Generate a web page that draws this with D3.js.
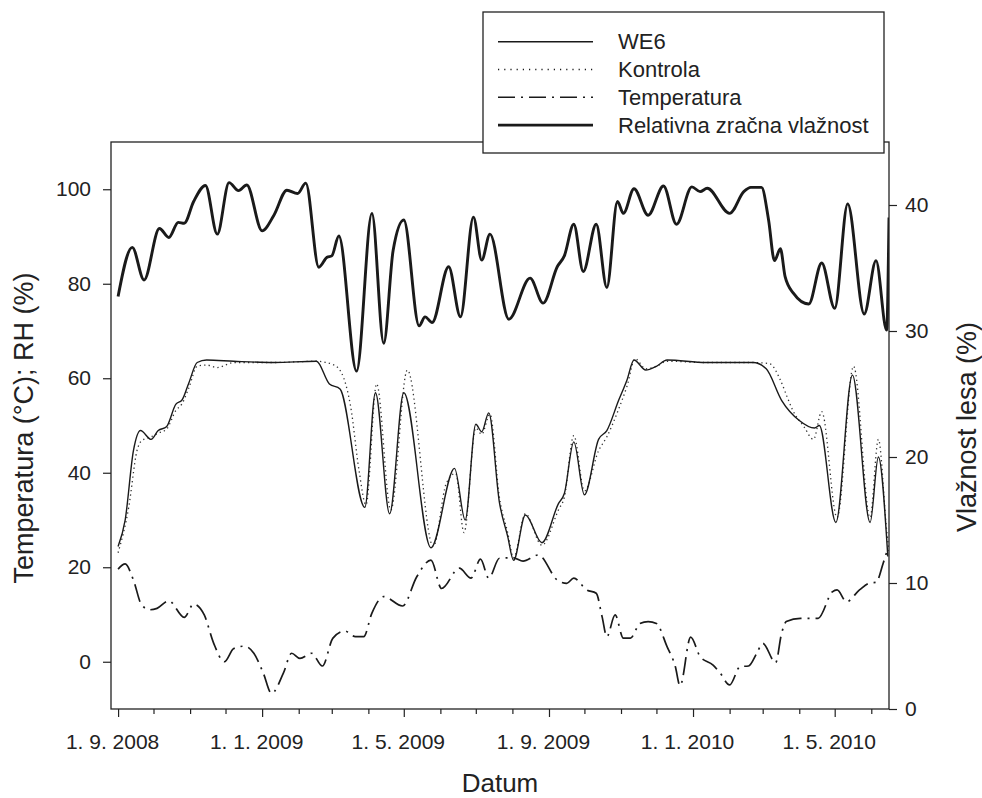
<!DOCTYPE html>
<html>
<head>
<meta charset="utf-8">
<script src="https://cdn.jsdelivr.net/npm/d3@7/dist/d3.min.js"></script>
<style>
  html, body { margin: 0; padding: 0; background: #fff; }
  svg { display: block; }
  text { font-family: "Liberation Sans", Arial, sans-serif; fill: #222; }
</style>
</head>
<body>
<svg id="chart" width="982" height="798"></svg>
<script>
// ---- data ----
const xDomain = ["2008-08-26", "2010-06-16"];
const leftTicks = [0, 20, 40, 60, 80, 100];
const rightTicks = [0, 10, 20, 30, 40];
const labelMonths = [0, 4, 8]; // January, May, September get labels

// Relative air humidity (%), left axis
const rhSeries = [
  ["2008-09-01",77.3],["2008-09-13",87.7],["2008-09-23",80.8],["2008-10-06",91.7],
  ["2008-10-14",89.8],["2008-10-22",93.0],["2008-10-27",92.8],["2008-11-04",97.4],
  ["2008-11-14",100.8],["2008-11-24",90.5],["2008-12-04",101.4],["2008-12-12",99.7],
  ["2008-12-19",100.9],["2009-01-01",91.2],["2009-01-11",94.5],["2009-01-22",99.8],
  ["2009-01-31",99.1],["2009-02-07",101.3],["2009-02-18",83.5],["2009-02-25",85.6],
  ["2009-03-01",85.9],["2009-03-07",90.1],["2009-03-22",61.5],["2009-04-04",94.9],
  ["2009-04-14",67.4],["2009-04-22",87.1],["2009-05-01",93.5],["2009-05-14",71.1],
  ["2009-05-19",73.0],["2009-05-25",71.8],["2009-06-08",83.6],["2009-06-18",73.0],
  ["2009-06-29",94.1],["2009-07-06",85.0],["2009-07-13",90.5],["2009-07-29",72.5],
  ["2009-08-16",81.2],["2009-08-27",75.9],["2009-09-08",83.6],["2009-09-14",85.9],
  ["2009-09-22",92.6],["2009-09-30",82.6],["2009-10-11",92.6],["2009-10-20",79.2],
  ["2009-10-29",97.4],["2009-11-03",94.9],["2009-11-12",100.1],["2009-11-24",94.5],
  ["2009-12-07",100.7],["2009-12-18",92.6],["2009-12-31",100.5],["2010-01-07",99.5],
  ["2010-01-13",100.2],["2010-02-01",94.9],["2010-02-13",99.5],["2010-02-19",100.4],
  ["2010-02-28",100.4],["2010-03-06",93.5],["2010-03-11",84.9],["2010-03-16",87.4],
  ["2010-03-20",81.5],["2010-03-27",78.0],["2010-04-09",75.7],["2010-04-20",84.4],
  ["2010-05-01",74.8],["2010-05-12",96.9],["2010-05-26",73.6],["2010-06-05",84.9],
  ["2010-06-14",70.2],["2010-06-16",94.0]
];

// Air temperature (°C), left axis
const tempSeries = [
  ["2008-09-01",19.6],["2008-09-07",20.7],["2008-09-14",17.3],["2008-09-21",12.0],
  ["2008-09-28",11.0],["2008-10-04",11.3],["2008-10-14",12.9],["2008-10-27",9.4],
  ["2008-11-04",12.2],["2008-11-13",9.9],["2008-11-21",3.9],["2008-11-30",0.0],
  ["2008-12-08",2.8],["2008-12-17",3.3],["2008-12-25",1.8],["2009-01-02",-2.4],
  ["2009-01-09",-6.7],["2009-01-19",-2.4],["2009-01-26",1.8],["2009-02-02",0.7],
  ["2009-02-12",1.8],["2009-02-21",-0.9],["2009-03-02",5.0],["2009-03-12",6.5],
  ["2009-03-21",5.3],["2009-03-28",5.3],["2009-04-04",10.3],["2009-04-14",13.8],
  ["2009-04-30",11.8],["2009-05-12",18.0],["2009-05-24",21.5],["2009-06-02",15.5],
  ["2009-06-17",19.8],["2009-06-27",17.7],["2009-07-05",21.7],["2009-07-12",17.7],
  ["2009-07-21",21.9],["2009-08-02",22.0],["2009-08-10",21.3],["2009-08-23",22.6],
  ["2009-09-08",17.3],["2009-09-16",16.6],["2009-09-22",17.7],["2009-10-03",15.2],
  ["2009-10-11",14.5],["2009-10-16",9.5],["2009-10-20",5.3],["2009-10-27",9.9],
  ["2009-11-03",5.0],["2009-11-09",5.0],["2009-11-17",8.1],["2009-11-24",8.5],
  ["2009-12-01",8.1],["2009-12-10",3.2],["2009-12-17",-1.0],["2009-12-21",-5.1],
  ["2009-12-30",5.2],["2010-01-07",1.1],["2010-01-18",-0.7],["2010-01-24",-2.4],
  ["2010-02-01",-4.9],["2010-02-10",-1.0],["2010-02-17",-0.9],["2010-02-24",1.8],
  ["2010-03-01",3.9],["2010-03-12",-0.2],["2010-03-17",6.0],["2010-03-21",8.5],
  ["2010-04-02",9.2],["2010-04-17",9.2],["2010-04-29",14.8],["2010-05-03",15.2],
  ["2010-05-11",12.7],["2010-05-22",15.2],["2010-05-31",16.7],["2010-06-05",16.8],
  ["2010-06-11",20.8],["2010-06-15",24.0]
];

// Wood moisture WE6 (%), right axis
const we6Series = [
  ["2008-09-01",12.9],["2008-09-07",15.0],["2008-09-14",20.5],["2008-09-20",22.1],
  ["2008-09-29",21.4],["2008-10-05",22.1],["2008-10-12",22.4],["2008-10-20",24.2],
  ["2008-10-25",24.5],["2008-10-31",25.9],["2008-11-07",27.5],["2008-11-15",27.7],
  ["2008-12-08",27.6],["2009-01-11",27.5],["2009-02-16",27.6],["2009-02-27",25.8],
  ["2009-03-08",25.4],["2009-03-29",16.0],["2009-04-07",25.1],["2009-04-19",15.5],
  ["2009-05-01",25.1],["2009-05-24",12.8],["2009-06-13",19.1],["2009-06-22",15.0],
  ["2009-07-01",22.6],["2009-07-06",22.0],["2009-07-12",23.5],["2009-07-21",16.4],
  ["2009-07-28",13.7],["2009-08-02",11.8],["2009-08-12",15.4],["2009-08-26",13.2],
  ["2009-09-09",16.3],["2009-09-14",17.1],["2009-09-22",21.2],["2009-10-01",17.0],
  ["2009-10-13",21.4],["2009-10-20",22.1],["2009-10-30",24.5],["2009-11-06",26.1],
  ["2009-11-12",27.7],["2009-11-22",26.9],["2009-12-01",27.2],["2009-12-10",27.7],
  ["2010-01-12",27.5],["2010-02-21",27.5],["2010-03-04",27.0],["2010-03-17",24.5],
  ["2010-04-01",22.9],["2010-04-14",22.3],["2010-04-18",22.5],["2010-05-02",14.8],
  ["2010-05-16",26.5],["2010-05-31",14.8],["2010-06-07",20.0],["2010-06-15",12.1]
];

// Wood moisture, control (%), right axis
const kontrolaSeries = [
  ["2008-09-01",12.4],["2008-09-10",16.0],["2008-09-17",20.5],["2008-09-21",21.3],
  ["2008-09-29",21.6],["2008-10-05",21.9],["2008-10-12",22.2],["2008-10-20",23.7],
  ["2008-10-25",24.2],["2008-10-31",25.5],["2008-11-07",27.2],["2008-11-15",27.3],
  ["2008-11-24",27.1],["2008-12-08",27.5],["2009-01-11",27.5],["2009-02-16",27.6],
  ["2009-03-03",27.3],["2009-03-11",26.3],["2009-03-17",24.0],["2009-03-24",19.0],
  ["2009-03-30",16.2],["2009-04-08",25.8],["2009-04-20",15.8],["2009-05-04",26.9],
  ["2009-05-26",12.9],["2009-06-06",17.9],["2009-06-14",18.7],["2009-06-21",14.0],
  ["2009-07-01",22.3],["2009-07-06",21.8],["2009-07-13",23.4],["2009-07-21",16.8],
  ["2009-07-28",14.0],["2009-08-02",12.0],["2009-08-12",15.5],["2009-08-26",13.0],
  ["2009-09-09",15.8],["2009-09-14",16.8],["2009-09-22",21.7],["2009-10-01",17.3],
  ["2009-10-13",20.5],["2009-10-20",21.6],["2009-10-30",23.8],["2009-11-06",25.6],
  ["2009-11-13",27.8],["2009-11-22",27.0],["2009-12-01",27.2],["2009-12-10",27.6],
  ["2010-01-12",27.5],["2010-02-21",27.5],["2010-03-07",27.4],["2010-03-16",26.1],
  ["2010-03-22",24.7],["2010-03-26",23.8],["2010-04-05",22.4],["2010-04-13",21.4],
  ["2010-04-20",23.6],["2010-05-03",15.2],["2010-05-17",27.2],["2010-05-31",15.2],
  ["2010-06-07",21.4],["2010-06-14",14.2],["2010-06-16",12.5]
];

const legendItems = ["WE6", "Kontrola", "Temperatura", "Relativna zračna vlažnost"];

// ---- drawing ----
const parse = d3.timeParse("%Y-%m-%d");
const svg = d3.select("#chart");
const L = 111, R = 889, T = 142, B = 709;
const FONT = '"Liberation Sans", Arial, sans-serif';

const x = d3.scaleTime().domain(xDomain.map(parse)).range([L, R]);
const yL = d3.scaleLinear().domain([-10, 110]).range([B, T]);
const yR = d3.scaleLinear().domain([0, 45]).range([B, T]);

const lineL = d3.line().x(d => x(parse(d[0]))).y(d => yL(d[1])).curve(d3.curveMonotoneX);
const lineR = d3.line().x(d => x(parse(d[0]))).y(d => yR(d[1])).curve(d3.curveMonotoneX);

svg.append("clipPath").attr("id", "clip")
  .append("rect").attr("x", L).attr("y", T - 5).attr("width", R - L).attr("height", B - T + 5);

const g = svg.append("g").attr("clip-path", "url(#clip)");

const KDASH = "1.3,3.2", TDASH = "18,6,2,6";
g.append("path").datum(kontrolaSeries).attr("d", lineR)
  .attr("fill", "none").attr("stroke", "#333").attr("stroke-width", 1.3)
  .attr("stroke-dasharray", KDASH);
g.append("path").datum(we6Series).attr("d", lineR)
  .attr("fill", "none").attr("stroke", "#1a1a1a").attr("stroke-width", 1.4);
g.append("path").datum(tempSeries).attr("d", lineL)
  .attr("fill", "none").attr("stroke", "#1a1a1a").attr("stroke-width", 1.7)
  .attr("stroke-dasharray", TDASH);
g.append("path").datum(rhSeries).attr("d", lineL)
  .attr("fill", "none").attr("stroke", "#1a1a1a").attr("stroke-width", 2.9);

// Frame
svg.append("rect").attr("x", L).attr("y", T).attr("width", R - L).attr("height", B - T)
  .attr("fill", "none").attr("stroke", "#222").attr("stroke-width", 1.3);

// Axes
const months = d3.timeMonth.range(d3.timeMonth.ceil(x.domain()[0]), x.domain()[1]);
const isMajor = d => labelMonths.includes(d.getMonth());
const fmt = d => isMajor(d) ? `1. ${d.getMonth() + 1}. ${d.getFullYear()}` : "";

const ax = svg.append("g").attr("transform", `translate(0,${B})`)
  .call(d3.axisBottom(x).tickValues(months).tickFormat(fmt).tickSize(8).tickSizeOuter(0));
const ayl = svg.append("g").attr("transform", `translate(${L},0)`)
  .call(d3.axisLeft(yL).tickValues(leftTicks).tickSize(8).tickSizeOuter(0));
const ayr = svg.append("g").attr("transform", `translate(${R},0)`)
  .call(d3.axisRight(yR).tickValues(rightTicks).tickSize(8).tickSizeOuter(0));

[ax, ayl, ayr].forEach(a => {
  a.select(".domain").remove();
  a.selectAll(".tick line").attr("stroke", "#222").attr("stroke-width", 1.2);
  a.selectAll(".tick text").attr("font-size", 21).attr("fill", "#222")
    .style("font-family", FONT);
});
ax.selectAll(".tick line").attr("y2", d => isMajor(d) ? 8 : 5);
ax.selectAll(".tick text").attr("y", 40).attr("dy", 0).attr("x", -6);
ayl.selectAll(".tick text").attr("x", -20);
ayr.selectAll(".tick text").attr("x", 16);

// Axis titles
svg.append("text").attr("transform", `translate(33,428) rotate(-90)`)
  .attr("text-anchor", "middle").attr("font-size", 27).text("Temperatura (°C); RH (%)");
svg.append("text").attr("transform", `translate(976,427) rotate(-90)`)
  .attr("text-anchor", "middle").attr("font-size", 27).text("Vlažnost lesa (%)");
svg.append("text").attr("x", 500).attr("y", 792).attr("text-anchor", "middle")
  .attr("font-size", 26).text("Datum");

// Legend
const lg = svg.append("g");
lg.append("rect").attr("x", 483).attr("y", 12).attr("width", 401).attr("height", 141)
  .attr("fill", "#fff").attr("stroke", "#222").attr("stroke-width", 1.3);
const styles = [
  { w: 1.4, dash: null },
  { w: 1.3, dash: "1.2,5" },
  { w: 1.6, dash: "17,6,2,6" },
  { w: 2.9, dash: null }
];
legendItems.forEach((name, i) => {
  const yy = 41.7 + i * 27.8;
  lg.append("line").attr("x1", 498).attr("x2", 593).attr("y1", yy).attr("y2", yy)
    .attr("stroke", "#1a1a1a").attr("stroke-width", styles[i].w)
    .attr("stroke-dasharray", styles[i].dash);
  lg.append("text").attr("x", 618).attr("y", yy + 7.5).attr("font-size", 22).text(name);
});
</script>
</body>
</html>
